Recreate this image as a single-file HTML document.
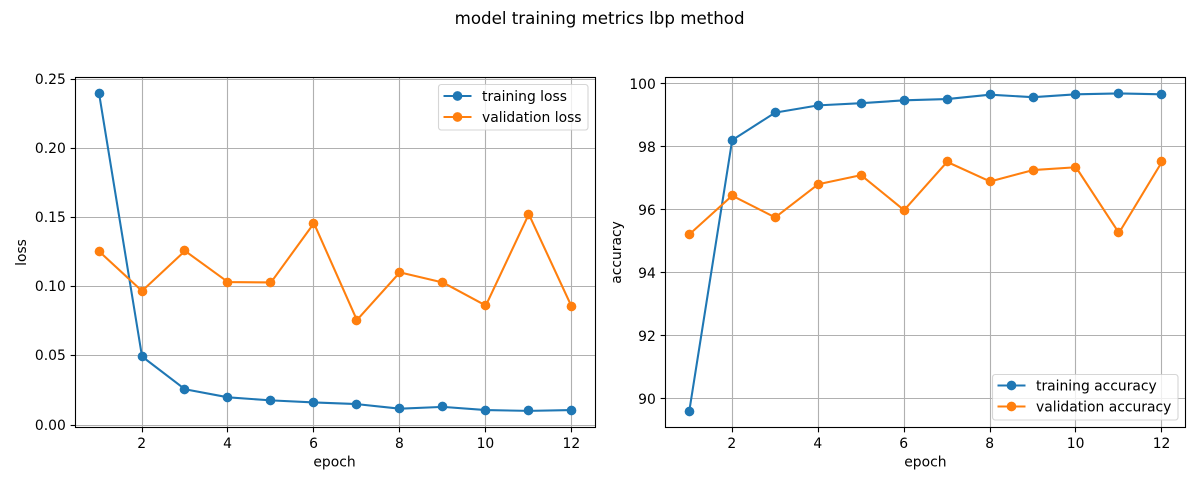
<!DOCTYPE html>
<html lang="en">
<head>
<meta charset="utf-8">
<title>model training metrics lbp method</title>
<style>
html,body{margin:0;padding:0;background:#fff;width:1200px;height:500px;overflow:hidden}
svg{display:block}
text{font-family:"DejaVu Sans",sans-serif;font-size:13.89px;fill:#000}
</style>
</head>
<body>
<svg id="fig" width="1200" height="500" viewBox="0 0 1200 500" xmlns="http://www.w3.org/2000/svg">
  <text x="599.6" y="24" text-anchor="middle" style="font-size:16.67px">model training metrics lbp method</text>
  <g id="panel-loss"></g>
  <g id="panel-acc"></g>
  <text x="334.5" y="466.5" text-anchor="middle">epoch</text>
  <text x="925.4" y="466.5" text-anchor="middle">epoch</text>
  <text transform="translate(26,252.5) rotate(-90)" text-anchor="middle">loss</text>
  <text transform="translate(621,252.5) rotate(-90)" text-anchor="middle">accuracy</text>

  <g>
    <rect x="438.5" y="84.5" width="149.5" height="45.5" rx="2.8" fill="#fff" fill-opacity="0.8" stroke="#ccc" stroke-opacity="0.8" stroke-width="1.11"/>
    <g>
      <line x1="443.5" x2="471.5" y1="96" y2="96" stroke="#1f77b4" stroke-width="2.08"/>
      <circle cx="457.5" cy="96" r="4.86" fill="#1f77b4"/>
      <text x="482" y="101">training loss</text>
    </g>
    <g>
      <line x1="443.5" x2="471.5" y1="117" y2="117" stroke="#ff7f0e" stroke-width="2.08"/>
      <circle cx="457.5" cy="117" r="4.86" fill="#ff7f0e"/>
      <text x="482" y="122">validation loss</text>
    </g>
  </g>

  <g>
    <rect x="992.5" y="374.5" width="185.5" height="45.5" rx="2.8" fill="#fff" fill-opacity="0.8" stroke="#ccc" stroke-opacity="0.8" stroke-width="1.11"/>
    <g>
      <line x1="997.5" x2="1025.5" y1="385.5" y2="385.5" stroke="#1f77b4" stroke-width="2.08"/>
      <circle cx="1011.5" cy="385.5" r="4.86" fill="#1f77b4"/>
      <text x="1036" y="390.5">training accuracy</text>
    </g>
    <g>
      <line x1="997.5" x2="1025.5" y1="406.5" y2="406.5" stroke="#ff7f0e" stroke-width="2.08"/>
      <circle cx="1011.5" cy="406.5" r="4.86" fill="#ff7f0e"/>
      <text x="1036" y="411.5">validation accuracy</text>
    </g>
  </g>
</svg>
<script>
const epochs = [1, 2, 3, 4, 5, 6, 7, 8, 9, 10, 11, 12];
const epochTicks = [2, 4, 6, 8, 10, 12];
const trainingLoss = [0.2396, 0.0495, 0.0258, 0.02, 0.0178, 0.0163, 0.0151, 0.0118, 0.0131, 0.0108, 0.0102, 0.0108];
const validationLoss = [0.1255, 0.0968, 0.1258, 0.1033, 0.103, 0.1458, 0.0758, 0.1103, 0.103, 0.0863, 0.1523, 0.0853];
const trainingAccuracy = [89.6, 98.2, 99.07, 99.3, 99.37, 99.46, 99.5, 99.64, 99.56, 99.65, 99.68, 99.65];
const validationAccuracy = [95.21, 96.44, 95.75, 96.8, 97.09, 95.98, 97.51, 96.89, 97.25, 97.34, 95.26, 97.51];
const lossTicks = ["0.00", "0.05", "0.10", "0.15", "0.20", "0.25"];
const accuracyTicks = ["90", "92", "94", "96", "98", "100"];

const NS = 'http://www.w3.org/2000/svg';
const TOP = 77.5, BOTTOM = 427.5;

function linear(d0, d1, r0, r1) {
  return function (v) { return r0 + (v - d0) * (r1 - r0) / (d1 - d0); };
}
function snap(p) { return Math.floor(p) + 0.5; }
function create(parent, tag) {
  const el = document.createElementNS(NS, tag);
  parent.appendChild(el);
  return el;
}
function set(el, props) {
  for (const k in props) el.setAttribute(k, props[k]);
  return el;
}

function drawPanel(group, key, left, right, xScale, yScale, yTicks, labelDy, series) {
  /* grid */
  epochTicks.forEach(function (t) {
    const x = snap(xScale(t));
    const g = set(create(group, 'line'), { x1: x, x2: x, y1: TOP, y2: BOTTOM, stroke: '#b0b0b0', 'stroke-width': 1.11 });
    
    
  });
  yTicks.forEach(function (t) {
    const y = snap(yScale(parseFloat(t)));
    const g = set(create(group, 'line'), { x1: left, x2: right, y1: y, y2: y, stroke: '#b0b0b0', 'stroke-width': 1.11 });
    
    
  });
  /* series */
  series.forEach(function (s) {
    const pts = epochs.map(function (e, i) { return xScale(e).toFixed(2) + ',' + yScale(s.values[i]).toFixed(2); }).join(' ');
    const line = set(create(group, 'polyline'), { points: pts, fill: 'none', stroke: s.color, 'stroke-width': 2.08, 'stroke-linejoin': 'round' });
    
    
    epochs.forEach(function (e, i) {
      const dot = set(create(group, 'circle'), { cx: snap(xScale(e)), cy: snap(yScale(s.values[i])), r: 4.86, fill: s.color });
      
      
    });
  });
  /* spines */
  const frame = set(create(group, 'rect'), { x: left, y: TOP, width: right - left, height: BOTTOM - TOP, fill: 'none', stroke: '#000', 'stroke-width': 1.11 });
  
  
  /* ticks */
  epochTicks.forEach(function (t) {
    const x = snap(xScale(t));
    const tick = set(create(group, 'line'), { x1: x, x2: x, y1: BOTTOM, y2: BOTTOM + 4.86, stroke: '#000', 'stroke-width': 1.11 });
    
    
    const label = set(create(group, 'text'), { x: xScale(t) - 0.4, y: 448, 'text-anchor': 'middle' });
    label.textContent = String(t);
    
    
  });
  yTicks.forEach(function (t) {
    const y = snap(yScale(parseFloat(t)));
    const tick = set(create(group, 'line'), { x1: left - 4.86, x2: left, y1: y, y2: y, stroke: '#000', 'stroke-width': 1.11 });
    
    
    const label = set(create(group, 'text'), { x: left - 9.7, y: y + labelDy, 'text-anchor': 'end' });
    label.textContent = t;
    
    
  });
}

const xLoss = linear(0.45, 12.55, 75.41, 595.41);
const yLoss = linear(0, 0.25, 425.0, 79.0);
const xAcc = linear(0.45, 12.55, 665.57, 1185.57);
const yAcc = linear(90, 100, 398.9, 83.3);

drawPanel(document.getElementById('panel-loss'), 'loss', 75.5, 595.5, xLoss, yLoss, lossTicks, 4.5, [
  { name: 'training-loss', color: '#1f77b4', values: trainingLoss },
  { name: 'validation-loss', color: '#ff7f0e', values: validationLoss }
]);
drawPanel(document.getElementById('panel-acc'), 'accuracy', 665.5, 1185.5, xAcc, yAcc, accuracyTicks, 5.5, [
  { name: 'training-accuracy', color: '#1f77b4', values: trainingAccuracy },
  { name: 'validation-accuracy', color: '#ff7f0e', values: validationAccuracy }
]);
</script>
</body>
</html>
